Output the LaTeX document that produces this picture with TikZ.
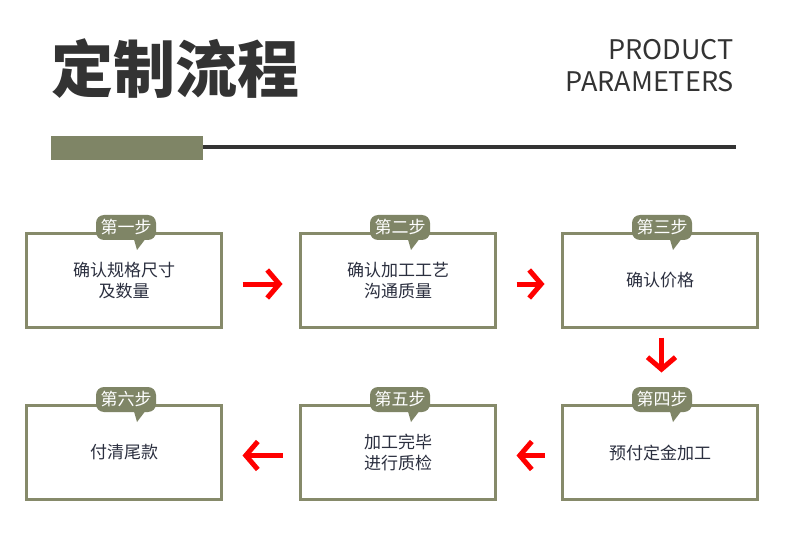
\documentclass[tikz,border=0pt]{standalone}
\usepackage{fontspec}
\setmainfont{Noto Sans CJK SC}
\usetikzlibrary{arrows.meta,calc}
\definecolor{olive}{HTML}{7F8566}
\definecolor{boxline}{HTML}{868A6A}
\definecolor{titlegray}{HTML}{333333}
\definecolor{navy}{HTML}{2B2F3F}
\definecolor{arrowred}{HTML}{FF0000}
\tikzset{
  stepbox/.style={draw=boxline, line width=3pt, minimum width=195pt, minimum height=94pt,
    outer sep=0pt, inner sep=0pt, align=center, font=\fontsize{17}{21}\selectfont, text=navy},
  steptag/.style={fill=olive, rounded corners=8pt, minimum width=60pt, minimum height=25pt,
    inner sep=0pt, outer sep=0pt, text=white, font=\fontsize{17}{20}\selectfont},
  flow/.style={draw=arrowred, line width=5pt, -{Straight Barb[length=12pt,width=28pt,line width=5pt]}},
}
\newcommand{\steplabel}[3]{%
  \node[steptag] (#2) at ($(#1.north)+(2,-6)$) {#3};
  \fill[olive] ($(#2.south)+(8,-0.5)$) -- ($(#2.south)+(19,-0.5)$) -- ($(#2.south)+(11,10)$) -- cycle;
}
\begin{document}
\begin{tikzpicture}[x=1pt,y=-1pt]
\useasboundingbox (0,0) rectangle (790,540);
\fill[white] (0,0) rectangle (790,540);
% header
\node[anchor=base west, inner sep=0pt, text=titlegray, font=\fontsize{62}{62}\selectfont\bfseries] (title) at (51,93) {定制流程};
\node[anchor=base east, inner sep=0pt, text=titlegray, font=\fontsize{27}{27}\selectfont] (en1) at (734,60) {PRODUCT};
\node[anchor=base east, inner sep=0pt, text=titlegray, font=\fontsize{27}{27}\selectfont] (en2) at (734,92) {PARAMETERS};
\fill[olive] (51,136) rectangle (203,160);
\fill[titlegray] (203,145) rectangle (736,149);
% boxes
\node[stepbox] (b1) at (124,280.5) {确认规格尺寸\\及数量};
\node[stepbox] (b2) at (398,280.5) {确认加工工艺\\沟通质量};
\node[stepbox] (b3) at (660,280.5) {确认价格};
\node[stepbox] (b4) at (660,452.5) {预付定金加工};
\node[stepbox] (b5) at (398,452.5) {加工完毕\\进行质检};
\node[stepbox] (b6) at (124,452.5) {付清尾款};
\steplabel{b1}{t1}{第一步}
\steplabel{b2}{t2}{第二步}
\steplabel{b3}{t3}{第三步}
\steplabel{b4}{t4}{第四步}
\steplabel{b5}{t5}{第五步}
\steplabel{b6}{t6}{第六步}
% arrows
\draw[flow, shorten <=21pt, shorten >=18pt] ([yshift=-3.5pt]b1.east) -- ([yshift=-3.5pt]b2.west);
\draw[flow, shorten <=21pt, shorten >=18pt] ([yshift=-3.5pt]b2.east) -- ([yshift=-3.5pt]b3.west);
\draw[flow, shorten <=10pt, shorten >=33pt] ([xshift=1.5pt]b3.south) -- ([xshift=1.5pt]b4.north);
\draw[flow, shorten <=18pt, shorten >=21pt] ([yshift=-3pt]b4.west) -- ([yshift=-3pt]b5.east);
\draw[flow, shorten <=18pt, shorten >=21pt] ([yshift=-3pt]b5.west) -- ([yshift=-3pt]b6.east);
\end{tikzpicture}
\end{document}
